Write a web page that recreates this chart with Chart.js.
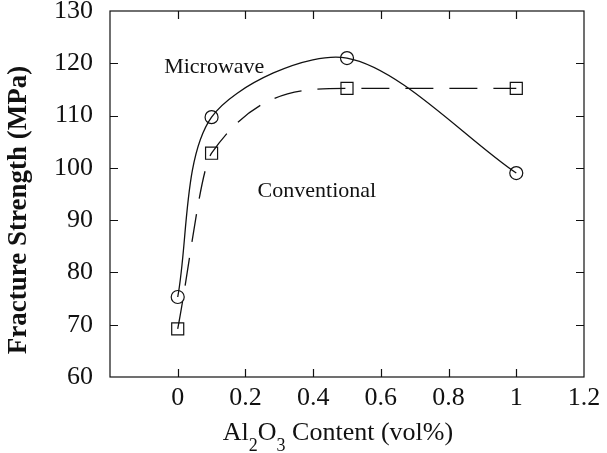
<!DOCTYPE html>
<html>
<head>
<meta charset="utf-8">
<script src="https://cdn.jsdelivr.net/npm/chart.js@4.4.1/dist/chart.umd.min.js"></script>
<style>
  body { margin: 0; background: #fff; }
</style>
</head>
<body>
<canvas id="myChart" width="607" height="453"></canvas>
<script>
// values
const al2o3Content = [0, 0.1, 0.5, 1];
const microwaveMPa = [75.3, 109.7, 121.0, 99.0];
const conventionalMPa = [69.2, 102.8, 115.2, 115.2];
const xTickValues = [-0.2, 0, 0.2, 0.4, 0.6, 0.8, 1, 1.2];
const xTickLabels = ['', '0', '0.2', '0.4', '0.6', '0.8', '1', '1.2'];
const yTickValues = [60, 70, 80, 90, 100, 110, 120, 130];
const seriesNames = ['Microwave', 'Conventional'];
const nameAnchorX = [-0.04, 0.236];
const nameAnchorY = [118.1, 94.4];

const serif = '"Liberation Serif", "Times New Roman", serif';
const ink = '#111';

function toPoints(xs, ys) {
  return xs.map((x, i) => ({ x: x, y: ys[i] }));
}

// frame, inward ticks, axis titles and series names
const framePlugin = {
  id: 'frame',
  afterDraw(chart) {
    const ctx = chart.ctx;
    const a = chart.chartArea;
    const xs = chart.scales.x;
    const ys = chart.scales.y;
    ctx.save();
    ctx.strokeStyle = ink;
    ctx.lineWidth = 1.2;
    ctx.strokeRect(a.left, a.top, a.right - a.left, a.bottom - a.top);

    ctx.beginPath();
    xs.ticks.forEach(t => {
      if (t.value <= xs.min || t.value >= xs.max) return;
      const px = Math.round(xs.getPixelForValue(t.value)) + 0.5;
      ctx.moveTo(px, a.bottom); ctx.lineTo(px, a.bottom - 8);
      ctx.moveTo(px, a.top); ctx.lineTo(px, a.top + 8);
    });
    ys.ticks.forEach(t => {
      if (t.value <= ys.min || t.value >= ys.max) return;
      const py = Math.round(ys.getPixelForValue(t.value)) + 0.5;
      ctx.moveTo(a.left, py); ctx.lineTo(a.left + 8, py);
      ctx.moveTo(a.right, py); ctx.lineTo(a.right - 8, py);
    });
    ctx.stroke();

    ctx.fillStyle = ink;
    ctx.textBaseline = 'alphabetic';

    // series names
    ctx.font = '22px ' + serif;
    ctx.textAlign = 'left';
    seriesNames.forEach((n, i) => {
      ctx.fillText(n, xs.getPixelForValue(nameAnchorX[i]), ys.getPixelForValue(nameAnchorY[i]));
    });

    // x title with subscripts
    const parts = [['Al', 26, 0], ['2', 18, 11], ['O', 26, 0], ['3', 18, 11], [' Content (vol%)', 26, 0]];
    let total = 0;
    parts.forEach(p => { ctx.font = p[1] + 'px ' + serif; total += ctx.measureText(p[0]).width; });
    let cx = (a.left + a.right) / 2 - 9 - total / 2;
    parts.forEach(p => {
      ctx.font = p[1] + 'px ' + serif;
      ctx.fillText(p[0], cx, 440 + p[2]);
      cx += ctx.measureText(p[0]).width;
    });

    // y title
    ctx.translate(19, 210);
    ctx.rotate(-Math.PI / 2);
    ctx.font = 'bold 27px ' + serif;
    ctx.textAlign = 'center';
    ctx.textBaseline = 'middle';
    ctx.fillText('Fracture Strength (MPa)', 0, 0);
    ctx.restore();
  }
};

var ctx = document.getElementById('myChart').getContext('2d');
var myChart = new Chart(ctx, {
  type: 'line',
  data: {
    datasets: [{
      label: seriesNames[0],
      data: toPoints(al2o3Content, microwaveMPa),
      borderColor: ink,
      borderWidth: 1.3,
      tension: 0.3,
      pointStyle: 'circle',
      pointRadius: 6.5,
      pointBorderWidth: 1.2,
      pointBorderColor: ink,
      pointBackgroundColor: 'rgba(0,0,0,0)'
    }, {
      label: seriesNames[1],
      data: toPoints(al2o3Content, conventionalMPa),
      borderColor: ink,
      borderWidth: 1.3,
      borderDash: [28, 16],
      tension: 0.4,
      cubicInterpolationMode: 'monotone',
      pointStyle: 'rect',
      pointRadius: 8.5,
      pointBorderWidth: 1.2,
      pointBorderColor: ink,
      pointBackgroundColor: 'rgba(0,0,0,0)'
    }]
  },
  options: {
    responsive: false,
    devicePixelRatio: 1,
    animation: false,
    layout: { padding: { top: 11, right: 23, bottom: 0, left: 0 } },
    plugins: { legend: { display: false }, tooltip: { enabled: false } },
    scales: {
      x: {
        type: 'linear',
        min: -0.2,
        max: 1.2,
        afterBuildTicks: s => { s.ticks = xTickValues.map(v => ({ value: v })); },
        afterFit: s => { s.height = 76; },
        grid: { display: false, drawTicks: false },
        border: { display: false },
        ticks: {
          padding: 6,
          color: ink,
          font: { family: serif, size: 26 },
          callback: (v, i) => xTickLabels[i]
        }
      },
      y: {
        min: 60,
        max: 130,
        afterBuildTicks: s => { s.ticks = yTickValues.map(v => ({ value: v })); },
        afterFit: s => { s.width = 110; s.paddingTop = 0; s.paddingBottom = 0; },
        grid: { display: false, drawTicks: false },
        border: { display: false },
        ticks: {
          padding: 17,
          color: ink,
          font: { family: serif, size: 26 }
        }
      }
    }
  },
  plugins: [framePlugin]
});
</script>
</body>
</html>
